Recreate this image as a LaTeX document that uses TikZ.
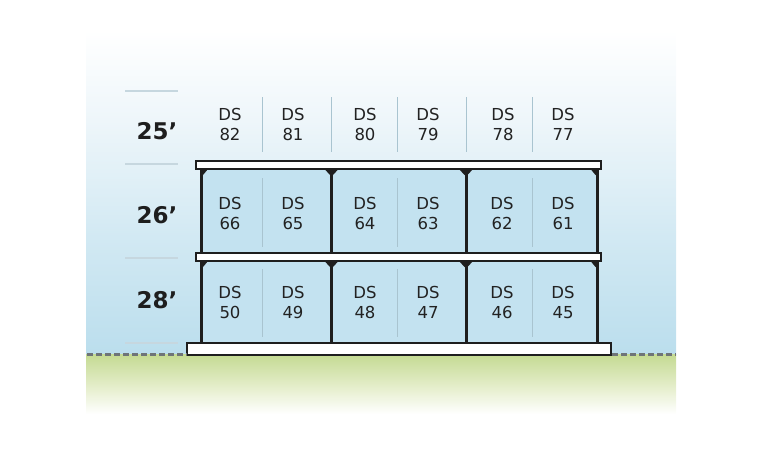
\documentclass[tikz,border=0pt]{standalone}
\usepackage{fontspec}
\setmainfont{DejaVu Sans}
\definecolor{sky}{HTML}{BBDEED}
\definecolor{skymid}{HTML}{D2E9F3}
\definecolor{skytop}{HTML}{EEF6FA}
\definecolor{cellc}{HTML}{C3E2F0}
\definecolor{grass}{HTML}{C4DA92}
\definecolor{grassmid}{HTML}{E2ECC6}
\definecolor{darkc}{HTML}{1E1E1E}
\definecolor{txt}{HTML}{222222}
\definecolor{divc}{HTML}{A9C4D0}
\definecolor{lblline}{HTML}{C6D7DF}
\definecolor{dashc}{HTML}{6E7478}
\tikzset{
  slab/.style={draw=darkc, fill=white, line width=1.2pt},
  column/.style={draw=darkc, line width=3pt},
  haunch/.style={fill=darkc},
  divider/.style={draw=divc, line width=0.8pt},
  lbline/.style={draw=lblline, line width=1.2pt},
  ds/.style={text=txt, align=center, inner sep=0pt, font=\fontsize{16.5}{20}\selectfont},
  height/.style={text=darkc, inner sep=0pt, font=\fontsize{23}{25}\selectfont\bfseries},
  groundline/.style={draw=dashc, line width=2.6pt, dash pattern=on 6pt off 3pt},
}
\begin{document}
\begin{tikzpicture}[x=1pt,y=-1pt]
\useasboundingbox (0,0) rectangle (761,466);
% background
\shade[top color=white, bottom color=skytop] (86,30) rectangle (676,120.5);
\shade[top color=skytop, bottom color=sky, middle color=skymid] (86,120) rectangle (676,354);
\shade[top color=grass, bottom color=white, middle color=grassmid] (86,354) rectangle (676,414);
% level marks
\foreach \yy in {91,164,258,343} \draw[lbline] (125,\yy) -- (178,\yy);
% cells
\foreach \xa/\xb in {201.5/331.5,331.5/466,466/597}{
  \fill[cellc] (\xa,169) rectangle (\xb,253);
  \fill[cellc] (\xa,261) rectangle (\xb,343);
}
% dividers
\foreach \xx in {262,331.5,397,466,532} \draw[divider] (\xx,97) -- (\xx,152);
\foreach \xx in {262,397,532}{
  \draw[divider] (\xx,178) -- (\xx,247);
  \draw[divider] (\xx,269) -- (\xx,337);
}
% columns
\foreach \xx in {201.5,331.5,466,597}{
  \draw[column] (\xx,169) -- (\xx,253);
  \draw[column] (\xx,261) -- (\xx,343);
}
% haunches
\foreach \yy in {169,261}{
  \fill[haunch] (200,\yy) -- (208,\yy) -- (203,\yy+6) -- (200,\yy+6) -- cycle;
  \fill[haunch] (598.5,\yy) -- (590.5,\yy) -- (595.5,\yy+6) -- (598.5,\yy+6) -- cycle;
  \foreach \xx in {331.5,466}
    \fill[haunch] (\xx-7,\yy) -- (\xx+7,\yy) -- (\xx+1.5,\yy+6) -- (\xx-1.5,\yy+6) -- cycle;
}
% slabs
\draw[slab] (196,161) rectangle (601,169);
\draw[slab] (196,253) rectangle (601,261);
\draw[slab] (187,343) rectangle (611,355);
% ground line
\draw[groundline] (87,354.5) -- (187,354.5);
\draw[groundline] (612,354.5) -- (676,354.5);
% height labels
\node[height] (h25) at (157,131) {25’};
\node[height] (h26) at (157,215) {26’};
\node[height] (h28) at (157,300) {28’};
% space labels
\node[ds] (s82) at (230,124) {DS\\82};
\node[ds] (s81) at (293,124) {DS\\81};
\node[ds] (s80) at (365,124) {DS\\80};
\node[ds] (s79) at (428,124) {DS\\79};
\node[ds] (s78) at (503,124) {DS\\78};
\node[ds] (s77) at (563,124) {DS\\77};
\node[ds] (s66) at (230,213) {DS\\66};
\node[ds] (s65) at (293,213) {DS\\65};
\node[ds] (s64) at (365,213) {DS\\64};
\node[ds] (s63) at (428,213) {DS\\63};
\node[ds] (s62) at (502,213) {DS\\62};
\node[ds] (s61) at (563,213) {DS\\61};
\node[ds] (s50) at (230,302) {DS\\50};
\node[ds] (s49) at (293,302) {DS\\49};
\node[ds] (s48) at (365,302) {DS\\48};
\node[ds] (s47) at (428,302) {DS\\47};
\node[ds] (s46) at (502,302) {DS\\46};
\node[ds] (s45) at (563,302) {DS\\45};
\end{tikzpicture}
\end{document}
